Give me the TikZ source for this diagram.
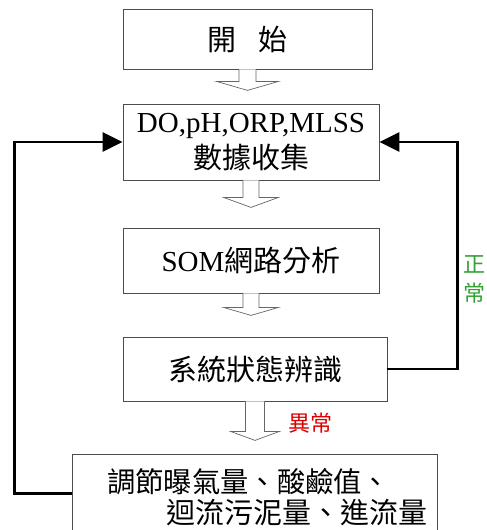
\documentclass[tikz,border=0pt]{standalone}
\usepackage{fontspec}
\setmainfont{Liberation Serif}
\newfontfamily\cjk{Noto Sans CJK TC}
\usetikzlibrary{arrows.meta,calc}
\definecolor{okgreen}{RGB}{50,160,50}
\definecolor{badred}{RGB}{220,0,0}
\newcommand\hollowarr[5]{\begin{scope}[shift={(#1)}]\draw[harrow] (-#2,0) -- (-#2,#3) -- (-#4,#3) -- (0,#3+#5) -- (#4,#3) -- (#2,#3) -- (#2,0);\end{scope}}
\tikzset{
  box/.style={draw=black!70, line width=0.8pt, fill=white, inner sep=0pt, align=center,
    font=\fontsize{29}{37}\selectfont},
  harrow/.style={draw=black!60, line width=0.7pt, fill=white},
  fb/.style={line width=2.6pt, -{Triangle[length=20pt,width=19pt]}},
  lbl/.style={inner sep=0pt, align=center, font=\cjk\fontsize{22}{29}\selectfont}
}
\begin{document}
\begin{tikzpicture}[x=1pt,y=-1pt]
\useasboundingbox (0,0) rectangle (487,530);
\clip (0,0) rectangle (487,530);
\node[box, minimum width=249pt, minimum height=60pt] (b1) at (247.5,39) {\cjk 開\hspace{23pt}始};
\node[box, minimum width=256pt, minimum height=76pt] (b2) at (251,142) {DO,pH,ORP,MLSS\\[-1pt]{\cjk 數據收集}};
\node[box, minimum width=256pt, minimum height=65pt] (b3) at (251,260.5) {SOM{\cjk 網路分析}};
\node[box, minimum width=264pt, minimum height=64pt] (b4) at (255,369) {\cjk 系統狀態辨識};
\node[box, minimum width=365pt, minimum height=100pt] (b5) at (254.5,504) {};
\node[inner sep=0pt, anchor=west, font=\cjk\fontsize{28.3}{34}\selectfont] (t5a) at (107,482) {調節曝氣量、酸鹼值、};
\node[inner sep=0pt, anchor=west, font=\cjk\fontsize{29}{34}\selectfont] (t5b) at (166,513) {迴流污泥量、進流量};
\hollowarr{b1.south}{8.5}{12}{31}{9}
\hollowarr{b2.south}{8}{17}{27.5}{10}
\hollowarr{b3.south}{8}{14}{27.5}{8}
\hollowarr{b4.south}{9.5}{30}{24.5}{9}
\draw[fb] ($(b5.north west)+(0,40)$) -| ([xshift=-108pt]b2.west) -- (b2.west);
\draw[fb] (b4.east) -| ([xshift=78pt]b2.east) -- (b2.east);
\node[lbl, text=okgreen] (ok) at (474,279) {正\\常};
\node[lbl, text=badred] (bad) at (310,423) {異常};
\end{tikzpicture}
\end{document}
